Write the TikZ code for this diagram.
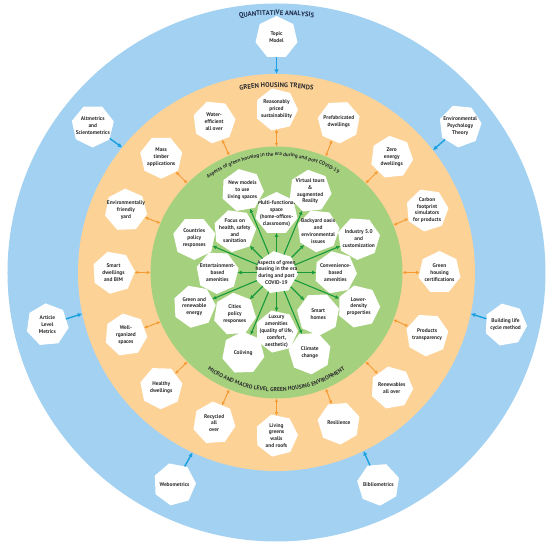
\documentclass[tikz,border=0pt]{standalone}
\usepackage{fontspec}
\setmainfont{PT Sans}
\usetikzlibrary{arrows.meta, shapes.geometric, decorations.text}
\definecolor{ringblue}{HTML}{A3D1F1}
\definecolor{ringorange}{HTML}{FDD297}
\definecolor{ringgreen}{HTML}{A5D17F}
\definecolor{arrowblue}{HTML}{1AA0E0}
\definecolor{arroworange}{HTML}{F49B34}
\definecolor{arrowgreen}{HTML}{17993B}
\definecolor{inktext}{HTML}{2E2E2E}
\definecolor{inknavy}{HTML}{1E2B4C}
\newcommand{\titlefont}{\fontsize{6.7}{8}\selectfont\bfseries}
\newcommand{\subtitlefont}{\fontsize{5.2}{6}\selectfont\bfseries}
\tikzset{
  hexa/.style={regular polygon, regular polygon sides=7, fill=white,
    minimum size=43pt, inner sep=0pt, outer sep=0pt},
  hextext/.style={align=center, text=inktext, inner sep=0pt,
    font=\fontsize{5.4}{6.9}\selectfont\bfseries},
  ring/.style={circle, inner sep=0pt, outer sep=0pt},
  toolarrow/.style={-{Latex[length=4.5pt, width=4.5pt]}, arrowblue, line width=1.4pt},
  trendarrow/.style={{Latex[length=3.5pt, width=3.5pt]}-{Latex[length=3.5pt, width=3.5pt]},
    arroworange, line width=1pt},
  aspectarrow/.style={-{Latex[length=4pt, width=4pt]}, arrowgreen, line width=1.1pt},
}
\newcommand{\hexbox}[4]{%
  \node[hexa, shape border rotate=#3, label={[hextext]center:{#4}}] (#1) at (#2) {};}
\newcommand{\ringtitle}[4]{%
  \path[decorate, decoration={text along path, text align=center, text={#4}}]
    (#2:#1) arc[start angle=#2, end angle=#3, radius=#1];}

\begin{document}
\begin{tikzpicture}[x=1pt, y=1pt]
  \path[use as bounding box, fill=white] (-276.5,-275.5) rectangle (273.5,272.5);

  % rings
  \node[ring, fill=ringblue, minimum size=538pt] (bluering) at (0,0) {};
  \node[ring, fill=ringorange, minimum size=397pt] (orangering) at (0,0) {};
  \node[ring, fill=ringgreen, minimum size=252pt] (greenring) at (0,0) {};

  % quantitative analysis
  \hexbox{q1}{90:235}{0}{Topic\\Model}
  \hexbox{q2}{38.57:235}{20}{Environmental\\Psychology\\Theory}
  \hexbox{q3}{-12.86:235}{10}{Building life\\cycle method}
  \hexbox{q4}{-64.29:235}{30}{Bibliometrics}
  \hexbox{q5}{-115.71:235}{15}{Webometrics}
  \hexbox{q6}{192.86:235}{5}{Article\\Level\\Metrics}
  \hexbox{q7}{141.43:235}{25}{Altmetrics\\and\\Scientometrics}

  % green housing trends
  \hexbox{t1}{90:163}{12}{Reasonably\\priced\\sustainability}
  \hexbox{t2}{67.5:163}{28}{Prefabricated\\dwellings}
  \hexbox{t3}{45:163}{6}{Zero\\energy\\dwellings}
  \hexbox{t4}{22.5:163}{18}{Carbon\\footprint\\simulators\\for products}
  \hexbox{t5}{0:163}{0}{Green\\housing\\certifications}
  \hexbox{t6}{-22.5:163}{22}{Products\\transparency}
  \hexbox{t7}{-45:163}{10}{Renewables\\all over}
  \hexbox{t8}{-67.5:163}{30}{Resilience}
  \hexbox{t9}{-90:163}{14}{Living\\greens\\walls\\and roofs}
  \hexbox{t10}{-112.5:163}{4}{Recycled\\all\\over}
  \hexbox{t11}{-135:163}{24}{Healthy\\dwellings}
  \hexbox{t12}{-157.5:163}{8}{Well-\\rganized\\spaces}
  \hexbox{t13}{180:163}{16}{Smart\\dwellings\\and BIM}
  \hexbox{t14}{157.5:163}{2}{Environmentally\\friendly\\yard}
  \hexbox{t15}{135:163}{26}{Mass\\timber\\applications}
  \hexbox{t16}{112.5:163}{20}{Water-\\efficient\\all over}

  % aspects in the era during and post COVID-19
  \hexbox{c}{0,0}{8}{Aspects of green\\housing in the era\\during and post\\COVID-19}
  \hexbox{a1}{90:59}{0}{Multi-functional\\space\\(home-offices-\\classrooms)}
  \hexbox{a2}{45:59}{20}{Backyard oasis\\and\\environmental\\issues}
  \hexbox{a3}{0:59}{10}{Convenience-\\based\\amenities}
  \hexbox{a4}{-45:59}{28}{Smart\\homes}
  \hexbox{a5}{-90:59}{14}{Luxury\\amenities\\(quality of life,\\comfort,\\aesthetic)}
  \hexbox{a6}{-135:59}{4}{Cities\\policy\\responses}
  \hexbox{a7}{180:59}{24}{Entertainment-\\based\\amenities}
  \hexbox{a8}{135:59}{18}{Focus on\\health, safety\\and\\sanitation}
  \hexbox{b1}{67.5:88}{6}{Virtual tours\\\&\\augmented\\Reality}
  \hexbox{b2}{22.5:89}{22}{Industry 5.0\\and\\customization}
  \hexbox{b3}{-22.5:89}{12}{Lower-\\density\\properties}
  \hexbox{b4}{-67.5:87}{30}{Climate\\change}
  \hexbox{b5}{-112.5:87}{2}{Coliving}
  \hexbox{b6}{-157.5:89}{16}{Green and\\renewable\\energy}
  \hexbox{b7}{157.5:89}{26}{Countries\\policy\\responses}
  \hexbox{b8}{112.5:89}{10}{New models\\to use\\living spaces}

  % ring titles
  \ringtitle{257.5pt}{130}{50}{|\titlefont\color{inknavy}|QUANTITATIVE ANALYSIS}
  \ringtitle{185.5pt}{130}{50}{|\titlefont\color{inktext}|GREEN HOUSING TRENDS}
  \ringtitle{116.5pt}{152}{32}{|\subtitlefont\color{inktext}|Aspects of green housing in the era during and post COVID-19}
  \ringtitle{119pt}{222}{318}{|\fontsize{5.7}{7}\selectfont\bfseries\color{inktext}|MICRO AND MACRO LEVEL GREEN HOUSING ENVIRONMENT}

  % arrows into the trends ring
  \draw[toolarrow] (q1) -- (orangering.90);
  \draw[toolarrow] (q2) -- (orangering.38.57);
  \draw[toolarrow] (q3) -- (orangering.-12.86);
  \draw[toolarrow] (q4) -- (orangering.-64.29);
  \draw[toolarrow] (q5) -- (orangering.-115.71);
  \draw[toolarrow] (q6) -- (orangering.192.86);
  \draw[toolarrow] (q7) -- (orangering.141.43);

  % arrows between trends and aspects
  \draw[trendarrow] (t1) -- (greenring.90);
  \draw[trendarrow] (t2) -- (greenring.67.5);
  \draw[trendarrow] (t3) -- (greenring.45);
  \draw[trendarrow] (t4) -- (greenring.22.5);
  \draw[trendarrow] (t5) -- (greenring.0);
  \draw[trendarrow] (t6) -- (greenring.-22.5);
  \draw[trendarrow] (t7) -- (greenring.-45);
  \draw[trendarrow] (t8) -- (greenring.-67.5);
  \draw[trendarrow] (t9) -- (greenring.-90);
  \draw[trendarrow] (t10) -- (greenring.-112.5);
  \draw[trendarrow] (t11) -- (greenring.-135);
  \draw[trendarrow] (t12) -- (greenring.-157.5);
  \draw[trendarrow] (t13) -- (greenring.180);
  \draw[trendarrow] (t14) -- (greenring.157.5);
  \draw[trendarrow] (t15) -- (greenring.135);
  \draw[trendarrow] (t16) -- (greenring.112.5);

  % arrows from the centre
  \draw[aspectarrow] (c) -- (a1);
  \draw[aspectarrow] (c) -- (a2);
  \draw[aspectarrow] (c) -- (a3);
  \draw[aspectarrow] (c) -- (a4);
  \draw[aspectarrow] (c) -- (a5);
  \draw[aspectarrow] (c) -- (a6);
  \draw[aspectarrow] (c) -- (a7);
  \draw[aspectarrow] (c) -- (a8);
  \draw[aspectarrow] (c) -- (b1);
  \draw[aspectarrow] (c) -- (b2);
  \draw[aspectarrow] (c) -- (b3);
  \draw[aspectarrow] (c) -- (b4);
  \draw[aspectarrow] (c) -- (b5);
  \draw[aspectarrow] (c) -- (b6);
  \draw[aspectarrow] (c) -- (b7);
  \draw[aspectarrow] (c) -- (b8);
\end{tikzpicture}
\end{document}
